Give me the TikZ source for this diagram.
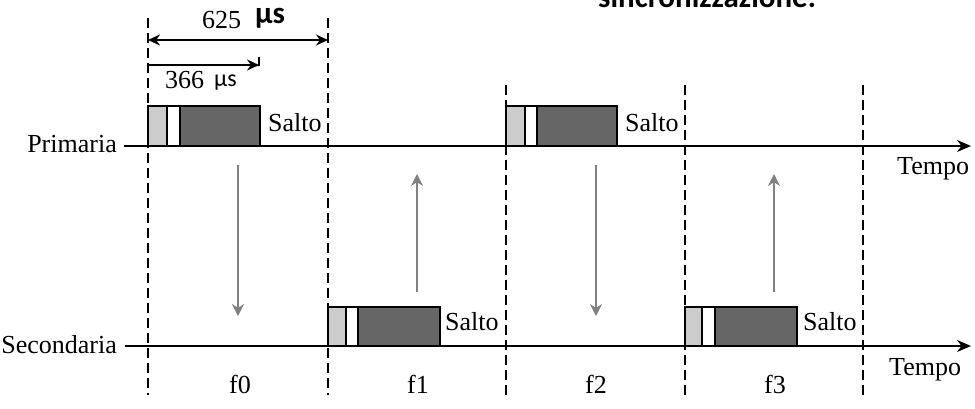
\documentclass[tikz,border=0pt]{standalone}
\usepackage{fontspec}
\setmainfont{Liberation Serif}
\newfontfamily\carl{Carlito}
\usetikzlibrary{arrows.meta}
\definecolor{lightg}{HTML}{CCCCCC}
\definecolor{darkg}{HTML}{666666}
\definecolor{arrg}{HTML}{808080}
\begin{document}
\begin{tikzpicture}[x=1pt,y=-1pt,
  lbl/.style={font=\fontsize{26}{29}\selectfont, inner sep=0pt},
  axisline/.style={line width=1.6pt, -{Stealth[length=14pt,width=12pt]}},
  sepline/.style={line width=1.5pt, dash pattern=on 10pt off 5pt},
  slot/.style={draw=black, line width=1.3pt},
  hop/.style={draw=arrg, line width=1.8pt, -{Stealth[length=12pt,width=12pt]}},
  dim/.style={line width=1.4pt}]
\useasboundingbox (0,0) rectangle (975,408);

% separators
\foreach \x/\t in {148/18,328/18,506/85,685/85,863/85}
  \draw[sepline] (\x,\t) -- (\x,395);

% axes
\node[lbl, anchor=base east] (prim) at (117,152) {Primaria};
\node[lbl, anchor=base east] (sec) at (117,353) {Secondaria};
\coordinate (pend) at (971,146);
\coordinate (send) at (971,346);
\draw[axisline] (prim.east |- 0,146) ++(7,0) -- (pend);
\draw[axisline] (sec.east |- 0,346) ++(8,0) -- (send);
\node[lbl, anchor=base west] (t1) at (897,174) {Tempo};
\node[lbl, anchor=base west] (t2) at (889,375) {Tempo};

% slots
\foreach \a/\b/\c/\d/\top/\bot in {148/167/180/260/106/146, 506/525/537/617/106/146, 328/346/358/440/307/346, 685/702/715/797/307/346}{
  \draw[slot, fill=lightg] (\a,\top) rectangle (\b,\bot);
  \draw[slot, fill=white] (\b,\top) rectangle (\c,\bot);
  \draw[slot, fill=darkg] (\c,\top) rectangle (\d,\bot);
}
\node[lbl, anchor=base west] (s1) at (268,131) {Salto};
\node[lbl, anchor=base west] (s2) at (625,131) {Salto};
\node[lbl, anchor=base west] (s3) at (445,330) {Salto};
\node[lbl, anchor=base west] (s4) at (803,330) {Salto};

% hop arrows
\draw[hop] (238,165) -- (238,316);
\draw[hop] (417,292) -- (417,174);
\draw[hop] (596,165) -- (596,316);
\draw[hop] (774,292) -- (774,174);

% channel labels
\node[lbl, anchor=base] (f0) at (240,393) {f0};
\node[lbl, anchor=base] (f1) at (418,393) {f1};
\node[lbl, anchor=base] (f2) at (596,393) {f2};
\node[lbl, anchor=base] (f3) at (775,393) {f3};

% dimensions
\coordinate (d1a) at (148,40);
\coordinate (d1b) at (328,40);
\draw[dim, {Stealth[length=12pt,width=11pt]}-{Stealth[length=12pt,width=11pt]}] (d1a) -- (d1b);
\node[font=\fontsize{26}{28}\selectfont, inner sep=0pt, anchor=base west] (n625) at (202,28) {625};
\node[font=\carl\bfseries\fontsize{31}{33}\selectfont, inner sep=0pt, anchor=base west] (mu1) at (255,23) {μs};

\coordinate (d2a) at (148,65);
\coordinate (d2b) at (259,65);
\draw[dim, {Stealth[length=12pt,width=11pt]}-] (d2b) -- (d2a);
\draw[dim] (259,57) -- (259,66);
\fill (250,61) -- (259,66) -- (251,66) -- cycle;
\node[font=\fontsize{26}{28}\selectfont, inner sep=0pt, anchor=base west] (n366) at (165,88) {366};
\node[font=\carl\fontsize{24}{26}\selectfont, inner sep=0pt, anchor=base west] (mu2) at (214,86) {μs};

% cut-off caption (as in the reference)
\node[font=\carl\bfseries\fontsize{31}{33}\selectfont, inner sep=0pt, anchor=base west] (cap) at (598,7) {sincronizzazione.};
\end{tikzpicture}
\end{document}
